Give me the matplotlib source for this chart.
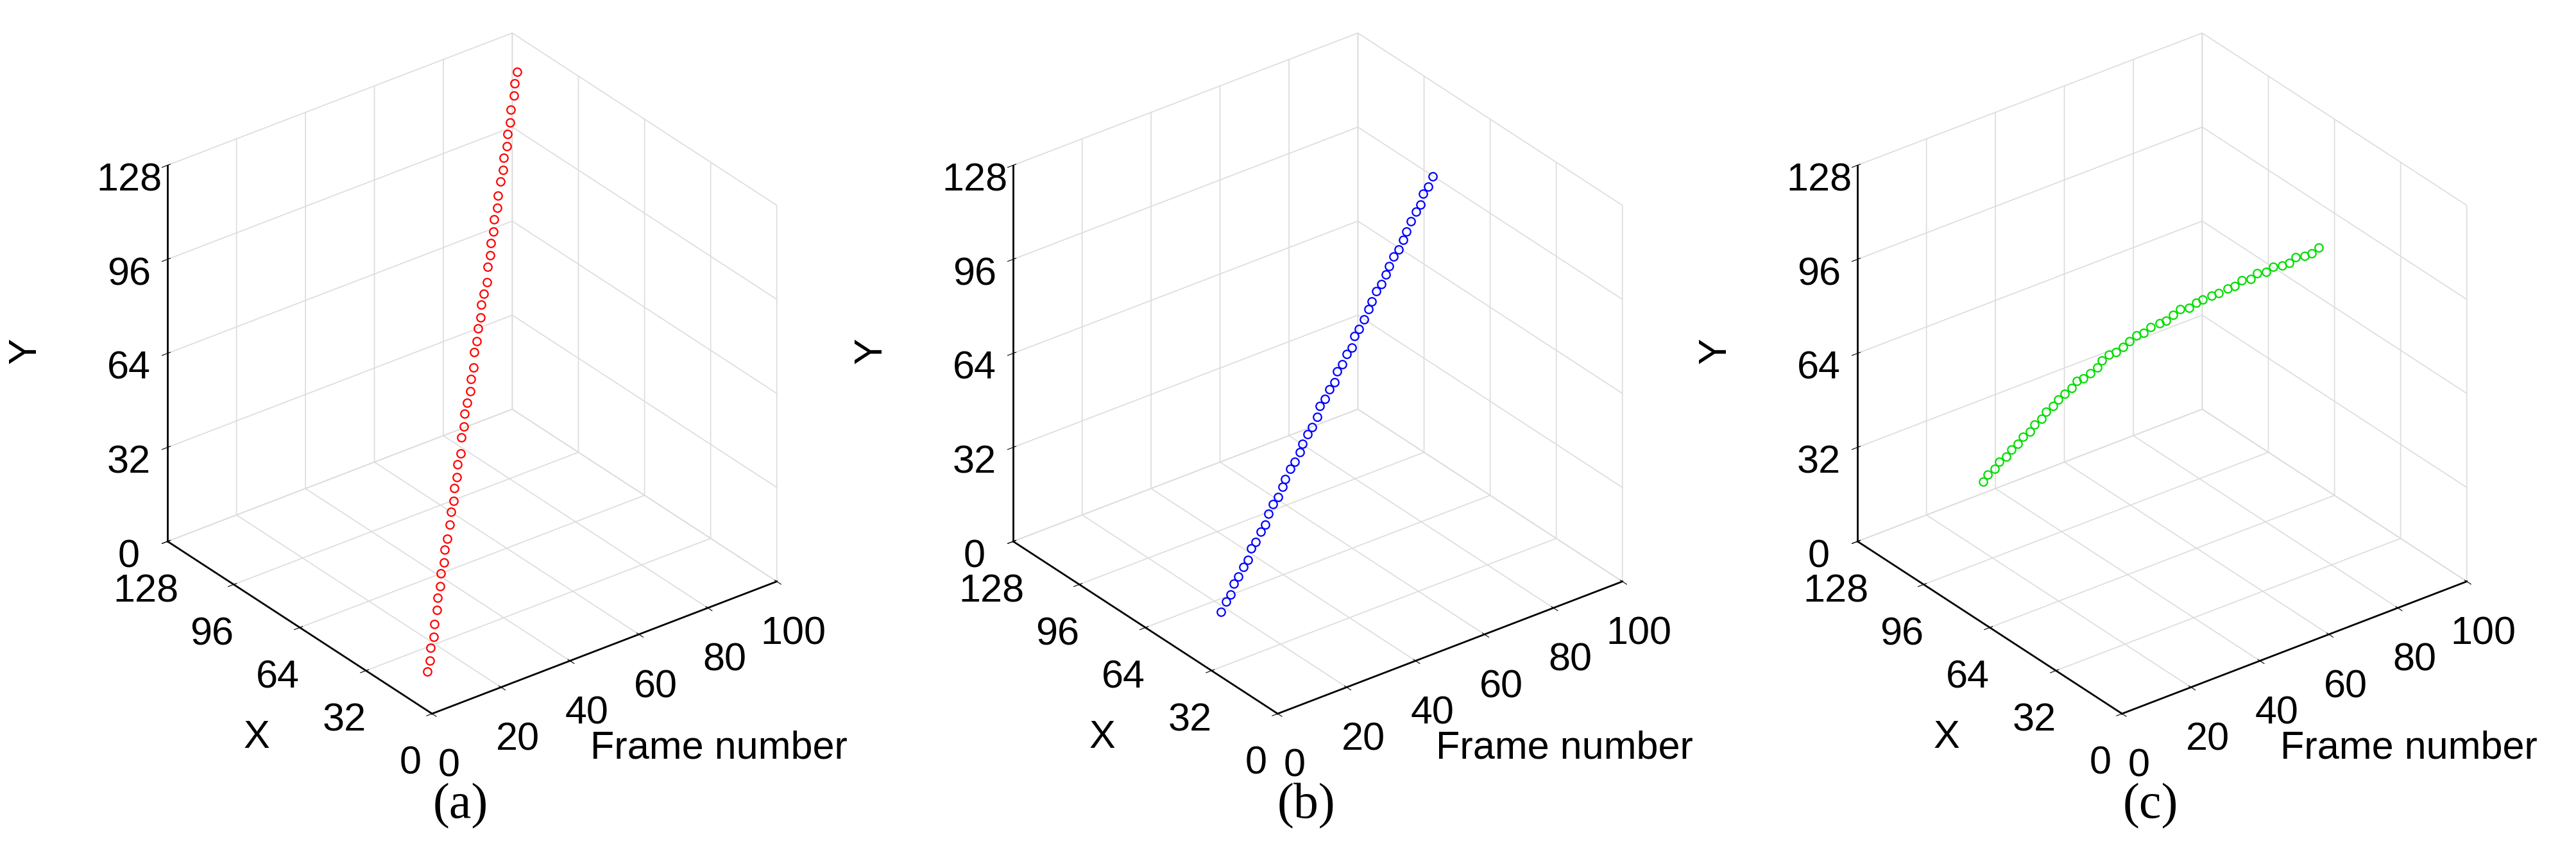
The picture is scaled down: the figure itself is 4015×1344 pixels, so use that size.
import matplotlib
matplotlib.use("Agg")
import matplotlib.pyplot as plt

frames = list(range(1, 101, 2))
red_x = [4,6,9,11,14,16,19,21,24,26,29,31,33,36,38,41,43,46,48,51,53,56,58,60,63,65,68,70,73,75,78,80,82,85,87,90,92,95,97,100,102,104,107,109,112,114,117,119,122,124]
red_y = [12,14,16,18,20,23,25,27,29,31,33,35,38,40,42,44,46,48,50,53,55,57,59,61,63,65,68,70,72,74,76,78,80,83,85,87,89,91,93,95,98,100,102,104,106,108,110,113,115,117]
blue_x = [29,30,31,33,34,35,36,38,39,40,41,43,44,45,46,48,49,50,51,53,54,55,56,58,59,60,61,63,64,65,66,68,69,70,71,73,74,75,76,78,79,80,81,83,84,85,86,88,89,90]
blue_y = [21,23,24,26,27,29,30,32,33,35,36,38,40,41,43,44,46,47,49,50,52,53,55,57,58,60,61,63,64,66,67,69,70,72,74,75,77,78,80,81,83,84,86,87,89,91,92,94,95,97]
green_x = [69,70,70,71,71,72,72,73,73,74,74,75,75,76,76,76,77,77,77,77,78,78,78,78,78,78,78,78,77,77,77,77,76,76,76,75,75,74,74,74,73,73,72,72,71,71,71,70,70,70]
green_y = [47,48,49,50,51,52,53,54,55,56,57,58,59,60,61,62,63,63,64,65,66,67,67,68,69,70,70,71,72,72,73,74,74,75,75,76,76,77,77,78,78,79,79,80,80,80,81,81,81,82]

frame_ticks = [0, 20, 40, 60, 80, 100]
xy_ticks = [0, 32, 64, 96, 128]
captions = ["(a)", "(b)", "(c)"]
series = [(red_x, red_y, "red"), (blue_x, blue_y, "blue"), (green_x, green_y, "#00dd00")]

plt.rcParams['font.family'] = ['Liberation Sans', 'DejaVu Sans']
W, H = 4015, 1344
fig = plt.figure(figsize=(W/100, H/100), dpi=100)
offsets = [0, 1318, 2634]
fs = 44
for i, ((sx, sy, col), cap, off) in enumerate(zip(series, captions, offsets)):
    ax = fig.add_axes([(off + 130) / W, 0.065, 1180 / W, 0.98], projection='3d', proj_type='ortho')
    ax.view_init(elev=30, azim=-127.5)
    ax.set_box_aspect((1, 1, 1), zoom=0.965)
    ax.plot(frames, sx, sy, linestyle='none', marker='o', mfc='none', mec=col, ms=9, mew=1.6)
    ax.set_xlim(0, 100); ax.set_ylim(0, 128); ax.set_zlim(0, 128)
    ax.set_xticks(frame_ticks); ax.set_yticks(xy_ticks); ax.set_zticks(xy_ticks)
    ax.tick_params(labelsize=fs, pad=20)
    for a in (ax.xaxis, ax.yaxis, ax.zaxis):
        a.set_pane_color((1, 1, 1, 0))
        a.pane.set_edgecolor('#d8d8d8')
        a._axinfo['grid'].update(color='#dcdcdc', linewidth=1.2)
        a.line.set_color('black')
        a.line.set_linewidth(2)
    fig.text((off + 40) / W, 1 - 547 / H, 'Y', fontsize=fs, rotation=90, ha='center', va='center')
    fig.text((off + 400) / W, 1 - 1150 / H, 'X', fontsize=fs, ha='center', va='center')
    fig.text((off + 1120) / W, 1 - 1167 / H, 'Frame number', fontsize=fs, ha='center', va='center')
    fig.text((off + 718) / W, 1 - 1257 / H, cap, fontsize=56, family=['Liberation Serif'], ha='center', va='center')
fig.savefig('out.png', dpi=100)
